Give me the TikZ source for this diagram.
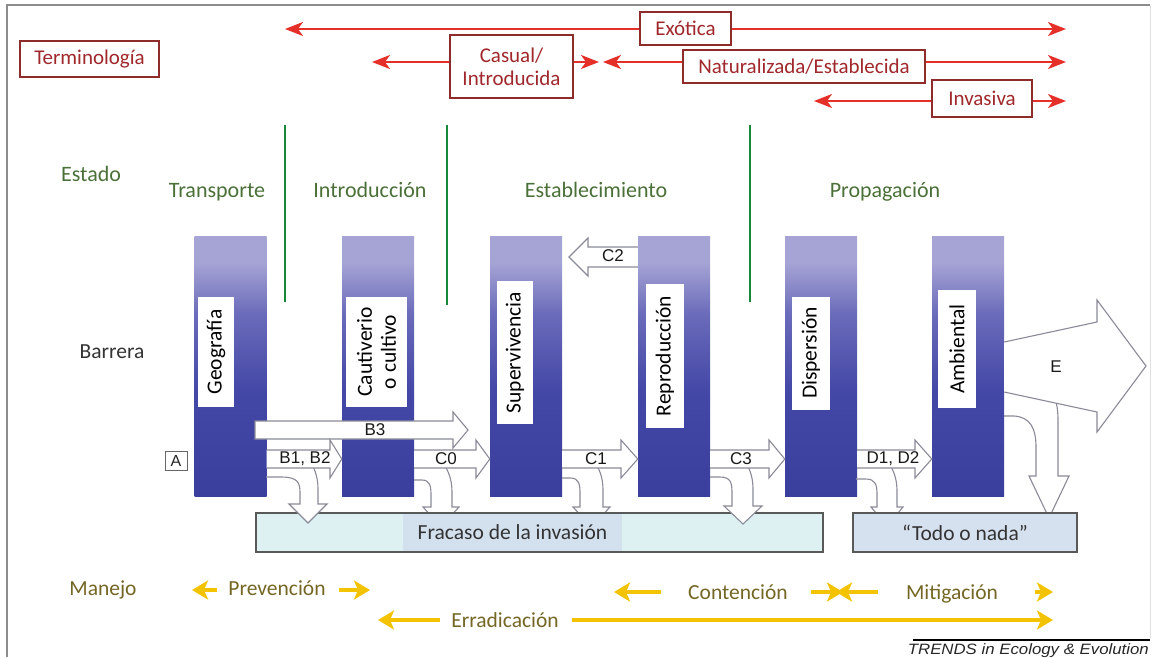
\documentclass[tikz,border=0pt]{standalone}
\usepackage{fontspec}
\setmainfont{Carlito}
\newfontfamily\arialf{Liberation Sans}
\usetikzlibrary{arrows.meta}
\definecolor{redln}{HTML}{E5302A}
\definecolor{redbox}{HTML}{8E2B2B}
\definecolor{redtxt}{HTML}{A0282C}
\definecolor{grn}{HTML}{17873A}
\definecolor{grntxt}{HTML}{4A7038}
\definecolor{yel}{HTML}{F3C300}
\definecolor{yeltxt}{HTML}{746624}
\definecolor{bartop}{HTML}{A6A4D5}
\definecolor{barmid}{HTML}{6A6BBA}
\definecolor{barbotb}{HTML}{4347A6}
\definecolor{barbot}{HTML}{3A3E9D}
\definecolor{arrgray}{HTML}{8A8A98}
\definecolor{failfill}{HTML}{DDF1F3}
\definecolor{failtxt}{HTML}{D3E0EE}
\definecolor{todofill}{HTML}{D6E1F0}
\pgfdeclareverticalshading{barshade}{100bp}{color(0bp)=(barbot); color(25bp)=(barbot); color(45bp)=(barbotb); color(60bp)=(barmid); color(70bp)=(bartop); color(100bp)=(bartop)}
\newcommand\dnarrow[8]{%
 \path[blockarr] (#1,#2) -- ({#1+0.45*#3},#2) .. controls ({#1+0.95*#3},#2) and ({#1+#3},{#2+6}) .. ({#1+#3},{#2+16}) -- ({#1+#3},#7) -- ({#1+#5},#7) -- ({#1+(#5+#6)/2},#8) -- ({#1+#6},#7) -- ({#1+#4},#7) -- ({#1+#4},{#2+12}) .. controls ({#1+#4},{#2+3}) and ({#1+#4-2},{#2-6}) .. ({#1+#4-7},{#2-14});}
\begin{document}
\begin{tikzpicture}[x=1pt,y=-1pt,
 redlbl/.style={draw=redbox, line width=1.1pt, fill=white, text=redtxt, font=\fontsize{21}{23}\selectfont, inner sep=0pt, align=center},
 redline/.style={draw=redln, line width=2.2pt, >={Stealth[length=18pt,width=14pt,inset=5pt]}},
 grnline/.style={draw=grn, line width=2.2pt},
 stlbl/.style={text=grntxt, font=\fontsize{22}{24}\selectfont, anchor=base},
 bar/.style={shading=barshade, minimum width=72pt, minimum height=260pt, inner sep=0pt},
 lblbox/.style={fill=white, rotate=90, inner sep=0pt, align=center, font=\fontsize{21.5}{22}\selectfont},
 blockarr/.style={fill=white, draw=arrgray, line width=1.1pt, line join=miter},
 arrlbl/.style={font=\arialf\fontsize{17}{18}\selectfont, text=black!90, inner sep=0pt},
 failbox/.style={draw=black!65, line width=1.2pt, fill=failfill, inner sep=0pt},
 yelline/.style={draw=yel, line width=3.2pt, >={Stealth[length=16pt,width=19pt,inset=4pt]}},
 mjlbl/.style={text=yeltxt, font=\fontsize{21.5}{23}\selectfont, anchor=base}
]
\useasboundingbox (0,0) rectangle (1153,657);
% frame
\draw[black!45, line width=1.5pt] (7,657) -- (7,5) -- (1150,5);
\draw[black!12, line width=1pt] (1150,5) -- (1150,638);

% terminology
\node[redlbl, minimum width=139pt, minimum height=36pt] (term) at (89.5,59) {Terminología};
\coordinate (exL) at (285,29);
\coordinate (exR) at (1066,29);
\draw[redline,<->] (exL) -- (exR);
\node[redlbl, minimum width=91pt, minimum height=33pt] (exo) at (685.5,28.5) {Exótica};
\node[redlbl, minimum width=123pt, minimum height=63pt] (cas) at (511.5,66.5) {Casual/\\Introducida};
\coordinate (casL) at (372,62);
\coordinate (casR) at (599,62);
\draw[redline,->] (cas.west |- 0,62) -- (casL);
\draw[redline,->] (cas.east |- 0,62) -- (casR);
\node[redlbl, minimum width=242pt, minimum height=33pt] (nat) at (804,66.5) {Naturalizada/Establecida};
\coordinate (natL) at (603,62);
\coordinate (natR) at (1066,62);
\draw[redline,->] (nat.west |- 0,62) -- (natL);
\draw[redline,->] (nat.east |- 0,62) -- (natR);
\node[redlbl, minimum width=100pt, minimum height=37pt] (inv) at (982,98.5) {Invasiva};
\coordinate (invL) at (814,101);
\coordinate (invR) at (1066,101);
\draw[redline,->] (inv.west |- 0,101) -- (invL);
\draw[redline,->] (inv.east |- 0,101) -- (invR);

% estado
\node[stlbl] (estado) at (91,181) {Estado};
\node[stlbl] (s1) at (217,197) {Transporte};
\node[stlbl] (s2) at (370,197) {Introducción};
\node[stlbl] (s3) at (596,197) {Establecimiento};
\node[stlbl] (s4) at (885,197) {Propagación};
\coordinate (gA1) at (285,125); \coordinate (gA2) at (285,302);
\coordinate (gB1) at (447,125); \coordinate (gB2) at (447,305);
\coordinate (gC1) at (750,125); \coordinate (gC2) at (750,302);
\draw[grnline] (gA1) -- (gA2);
\draw[grnline] (gB1) -- (gB2);
\draw[grnline] (gC1) -- (gC2);

\node[font=\fontsize{21.5}{22}\selectfont, text=black!80] (barrera) at (112,352) {Barrera};

% bars
\node[bar] (g1) at (230.5,366) {};
\node[bar] (g2) at (378,366) {};
\node[bar] (g3) at (526,366) {};
\node[bar] (g4) at (674,366) {};
\node[bar] (g5) at (821,366) {};
\node[bar] (g6) at (968,366) {};
\node[lblbox, minimum width=110pt, minimum height=36pt] (t1) at (216,352) {Geografía};
\node[lblbox, minimum width=110pt, minimum height=61pt, font=\fontsize{21.5}{24}\selectfont] (t2) at (376.5,352) {Cautiverio\\o cultivo};
\node[lblbox, minimum width=143pt, minimum height=36pt] (t3) at (515,352.5) {Supervivencia};
\node[lblbox, minimum width=144pt, minimum height=38pt] (t4) at (665,356) {Reproducción};
\node[lblbox, minimum width=113pt, minimum height=38pt] (t5) at (811,353) {Dispersión};
\node[lblbox, minimum width=118pt, minimum height=38pt] (t6) at (957,349) {Ambiental};

% down arrows hidden behind boxes
\dnarrow{414}{480}{17}{38}{9}{45}{507}{527}
\dnarrow{562}{478}{18}{41}{11}{48}{507}{527}
\dnarrow{856}{479}{21}{41}{15}{47}{507}{526}
\path[blockarr] (1004,416) -- (1014,416) .. controls (1030,417) and (1036,428) .. (1036,447) -- (1036,476) -- (1029,476) -- (1049,518) -- (1069,476) -- (1058,476) -- (1058,420) .. controls (1058,408) and (1056,400) .. (1053,392);

% failure boxes
\node[failbox, minimum width=567pt, minimum height=39pt] (fail) at (539.5,532.5) {};
\node[fill=failtxt, minimum width=219pt, minimum height=37pt, inner sep=0pt, font=\fontsize{21.5}{22}\selectfont, text=black!80] (failt) at (512.5,532.5) {Fracaso de la invasión};
\node[failbox, fill=todofill, minimum width=224pt, minimum height=39pt, font=\fontsize{21.5}{22}\selectfont, text=black!80] (todo) at (965,532.5) {“Todo o nada”};

\dnarrow{266}{477}{34}{52}{23}{61}{504}{523}
\dnarrow{710}{477}{22}{43}{14}{52}{506}{524}

% horizontal block arrows
\path[blockarr] (255,421) -- (453,421) -- (453,412) -- (468,430) -- (453,448) -- (453,439) -- (255,439) -- cycle;
\node[arrlbl] (lB3) at (375,430) {B3};
\path[blockarr] (g1.east |- 0,450) -- (330,450) -- (330,440) -- (g2.west |- 0,459) -- (330,478) -- (330,468) -- (g1.east |- 0,468);
\node[arrlbl] (lB1) at (305,459) {B1, B2};
\path[blockarr] (g2.east |- 0,450) -- (476,450) -- (476,440) -- (g3.west |- 0,459) -- (476,478) -- (476,468) -- (g2.east |- 0,468);
\node[arrlbl] (lC0) at (446,459) {C0};
\path[blockarr] (g3.east |- 0,450) -- (621,450) -- (621,440) -- (g4.west |- 0,459) -- (621,478) -- (621,468) -- (g3.east |- 0,468);
\node[arrlbl] (lC1) at (596,459) {C1};
\path[blockarr] (g4.east |- 0,450) -- (769,450) -- (769,440) -- (g5.west |- 0,459) -- (769,478) -- (769,468) -- (g4.east |- 0,468);
\node[arrlbl] (lC3) at (741,459) {C3};
\path[blockarr] (g5.east |- 0,450) -- (915,450) -- (915,440) -- (g6.west |- 0,459) -- (915,478) -- (915,468) -- (g5.east |- 0,468);
\node[arrlbl] (lD1) at (893,459) {D1, D2};
\path[blockarr] (g4.west |- 0,247) -- (588,247) -- (588,238) -- (569,257) -- (588,276) -- (588,267) -- (g4.west |- 0,267);
\node[arrlbl] (lC2) at (613,256) {C2};
\path[blockarr] (g6.east |- 0,342) -- (1097,322) -- (1097,300) -- (1146,366) -- (1097,432) -- (1097,412) -- (g6.east |- 0,392);
\node[arrlbl] (lE) at (1056,367) {E};

% A
\node[draw=black!60, line width=0.9pt, minimum width=22pt, minimum height=19pt, inner sep=0pt, font=\arialf\fontsize{16}{17}\selectfont, text=black!85] (A) at (176,460.5) {A};

% management
\node[mjlbl] (manejo) at (103,595) {Manejo};
\node[mjlbl] (prev) at (277,595) {Prevención};
\node[mjlbl] (cont) at (738,599) {Contención};
\node[mjlbl] (miti) at (952,599) {Mitigación};
\node[mjlbl] (erra) at (505,627) {Erradicación};
\coordinate (pL) at (192,590); \coordinate (pR) at (370,590);
\coordinate (cL) at (614,592); \coordinate (cR) at (843,592);
\coordinate (mL) at (836,592); \coordinate (mR) at (1053,592);
\coordinate (eL) at (378,620); \coordinate (eR) at (1053,620);
\draw[yelline,->] (prev.west |- pL) ++(-8,0) -- (pL);
\draw[yelline,->] (prev.east |- pR) ++(10,0) -- (pR);
\draw[yelline,->] (cont.west |- cL) ++(-24,0) -- (cL);
\draw[yelline,->] (cont.east |- cR) ++(20,0) -- (cR);
\draw[yelline,->] (miti.west |- mL) ++(-24,0) -- (mL);
\draw[yelline,->] (miti.east |- mR) ++(33,0) -- (mR);
\draw[yelline,->] (erra.west |- eL) ++(-8,0) -- (eL);
\draw[yelline,->] (erra.east |- eR) ++(10,0) -- (eR);

% credit
\coordinate (rl1) at (913,640); \coordinate (rl2) at (1150,640);
\draw[black, line width=2.5pt] (rl1) -- (rl2);
\node[anchor=north east, inner sep=0pt, xscale=1.12, font=\arialf\itshape\fontsize{15}{16}\selectfont, text=black!85] (trends) at (1149,643) {TRENDS in Ecology \& Evolution};
\end{tikzpicture}
\end{document}
